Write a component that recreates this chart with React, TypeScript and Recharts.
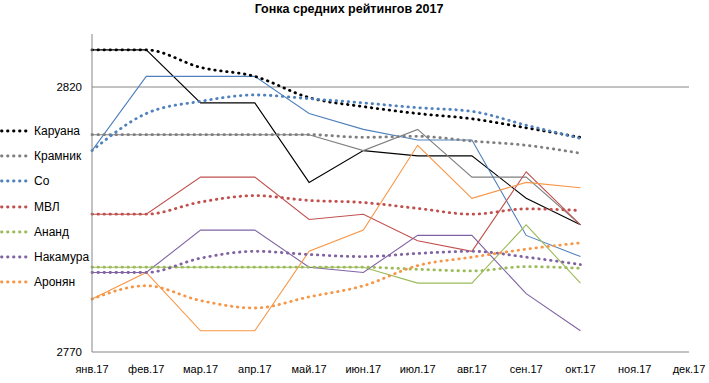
import React from 'react'
import { LineChart, Line, XAxis, YAxis, ReferenceLine } from 'recharts'

const months = ['янв.17', 'фев.17', 'мар.17', 'апр.17', 'май.17', 'июн.17', 'июл.17', 'авг.17', 'сен.17', 'окт.17', 'ноя.17', 'дек.17']

// monthly ratings (thin lines)
const caruana = [2827, 2827, 2817, 2817, 2802, 2808, 2807, 2807, 2799, 2794, null, null]
const kramnik = [2811, 2811, 2811, 2811, 2811, 2808, 2812, 2803, 2803, 2794, null, null]
const so = [2808, 2822, 2822, 2822, 2815, 2812, 2810, 2810, 2792, 2788, null, null]
const mvl = [2796, 2796, 2803, 2803, 2795, 2796, 2791, 2789, 2804, 2794, null, null]
const anand = [2786, 2786, 2786, 2786, 2786, 2786, 2783, 2783, 2794, 2783, null, null]
const nakamura = [2785, 2785, 2793, 2793, 2786, 2785, 2792, 2792, 2781, 2774, null, null]
const aronian = [2780, 2785, 2774, 2774, 2789, 2793, 2809, 2799, 2802, 2801, null, null]

// average ratings (dotted lines)
const caruanaAvg = [2827, 2827, 2823.7, 2822, 2818, 2816.3, 2815, 2814, 2812.3, 2810.5, null, null]
const kramnikAvg = [2811, 2811, 2811, 2811, 2811, 2810.5, 2810.7, 2809.8, 2809, 2807.5, null, null]
const soAvg = [2808, 2815, 2817.3, 2818.5, 2817.8, 2817, 2816.1, 2815.4, 2812.8, 2810.3, null, null]
const mvlAvg = [2796, 2796, 2798.3, 2799.5, 2798.6, 2798.2, 2797.1, 2796, 2797, 2796.7, null, null]
const anandAvg = [2786, 2786, 2786, 2786, 2786, 2786, 2785.6, 2785.3, 2786.1, 2785.8, null, null]
const nakamuraAvg = [2785, 2785, 2787.7, 2789, 2788.4, 2788, 2788.6, 2789, 2787.9, 2786.5, null, null]
const aronianAvg = [2780, 2782.5, 2779.7, 2778.3, 2780.4, 2782.5, 2786.3, 2787.9, 2789.4, 2790.6, null, null]

const yTicks = [2770, 2820]

const players = [
  { key: 'caruana', name: 'Каруана', color: '#000000', actual: caruana, avg: caruanaAvg },
  { key: 'kramnik', name: 'Крамник', color: '#7f7f7f', actual: kramnik, avg: kramnikAvg },
  { key: 'so', name: 'Со', color: '#4f81bd', actual: so, avg: soAvg },
  { key: 'mvl', name: 'МВЛ', color: '#c0504d', actual: mvl, avg: mvlAvg },
  { key: 'anand', name: 'Ананд', color: '#9bbb59', actual: anand, avg: anandAvg },
  { key: 'nakamura', name: 'Накамура', color: '#8064a2', actual: nakamura, avg: nakamuraAvg },
  { key: 'aronian', name: 'Аронян', color: '#f79646', actual: aronian, avg: aronianAvg },
]

const data = months.map((m, i) => {
  const row: Record<string, any> = { month: m }
  players.forEach(p => {
    row[p.key] = p.actual[i]
    row[p.key + 'Avg'] = p.avg[i]
  })
  return row
})

const font = '"Liberation Sans", Arial, sans-serif'

const LegendBox = () => (
  <div style={{ position: 'absolute', left: 0, top: 118, fontFamily: font, fontSize: 12, color: '#000' }}>
    {players.map(p => (
      <div key={p.key} style={{ height: 25.3, display: 'flex', alignItems: 'center' }}>
        <svg width={30} height={6}>
          <line x1={1.5} y1={3} x2={27} y2={3} stroke={p.color} strokeWidth={2.8}
            strokeDasharray="0.5 5.5" strokeLinecap="round" />
        </svg>
        <span style={{ marginLeft: 4 }}>{p.name}</span>
      </div>
    ))}
  </div>
)

export default function App() {
  return (
    <div style={{ position: 'absolute', left: 0, top: 0, width: 709, height: 383, background: '#fff' }}>
      <div style={{
        position: 'absolute', top: 2, left: 0, width: 698, textAlign: 'center',
        fontFamily: font, fontSize: 12.5, fontWeight: 'bold', color: '#000',
      }}>
        Гонка средних рейтингов 2017
      </div>
      <LineChart width={709} height={383} data={data}
        margin={{ top: 34, right: 20, bottom: 0, left: 32 }}>
        <XAxis dataKey="month" interval={0} tickLine={false}
          axisLine={{ stroke: '#868686' }}
          tick={{ fontSize: 11, fill: '#000', fontFamily: font }} tickMargin={7} height={31} />
        <YAxis domain={[2770, 2830]} ticks={yTicks} width={60} tickLine={false}
          axisLine={{ stroke: '#868686' }} allowDataOverflow
          tick={{ fontSize: 11.5, fill: '#000', fontFamily: font }} tickMargin={4} />
        <ReferenceLine y={2820} stroke="#868686" strokeWidth={1} />
        {players.map(p => (
          <Line key={p.key} type="linear" dataKey={p.key} stroke={p.color} strokeWidth={1.1}
            dot={false} legendType="none" isAnimationActive={false} />
        ))}
        {players.map(p => (
          <Line key={p.key + 'Avg'} type="monotone" dataKey={p.key + 'Avg'} name={p.name}
            stroke={p.color} strokeWidth={2.8} strokeDasharray="0.5 5.5" strokeLinecap="round"
            dot={false} isAnimationActive={false} />
        ))}
      </LineChart>
      <LegendBox />
    </div>
  )
}
